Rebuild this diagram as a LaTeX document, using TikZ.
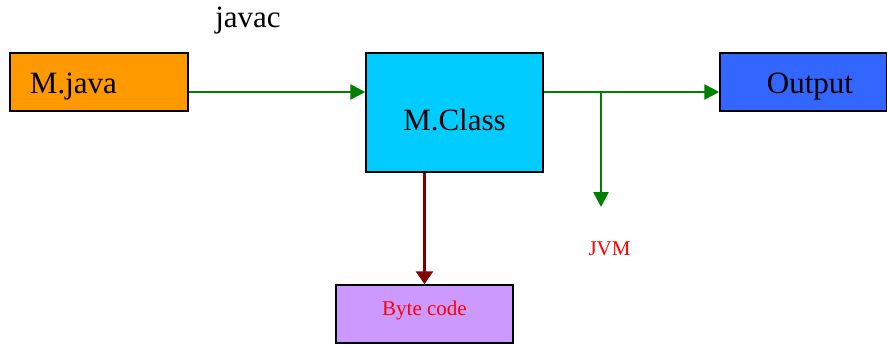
\documentclass[tikz,border=0pt]{standalone}
\usepackage{fontspec}
\setmainfont{Liberation Serif}
\usetikzlibrary{positioning, arrows.meta}

\definecolor{javaorange}{HTML}{FF9900}
\definecolor{classcyan}{HTML}{00CCFF}
\definecolor{outblue}{HTML}{3366FF}
\definecolor{codeviolet}{HTML}{CC99FF}
\definecolor{flowgreen}{HTML}{008000}
\definecolor{darkred}{HTML}{800000}

\begin{document}
\begin{tikzpicture}[
    x=1pt, y=-1pt,
    every node/.style={font=\fontsize{31}{34}\selectfont, align=center},
    box/.style={
        draw, line width=1.5pt, inner sep=0pt,
        minimum height=58pt, minimum width=177pt
    },
    small/.style={font=\fontsize{21}{24}\selectfont, text=red},
    line/.style={-{Triangle[length=15pt,width=15pt]}, line width=2.7pt, flowgreen}
]
\useasboundingbox (0,0) rectangle (887,345);

% --- Top row: source, class file, output ---
\node[box, fill=javaorange, minimum width=178pt, text width=138pt,
      inner xsep=20pt, align=left, text height=29pt] (mjava) at (99,82) {M.java};
\node[box, fill=classcyan, minimum height=119pt, text height=37pt] (mclass) at (454.5,112.5) {M.Class};
\node[box, fill=outblue, minimum width=167pt, text height=29pt] (output) at (803.5,82) {\hspace*{13pt}Output};

% --- Bottom: byte code box ---
\node[box, fill=codeviolet, small, text depth=12pt] (bytecode) at (424.5,314) {Byte code};

% --- Free labels ---
\node[anchor=base] (javac) at (248,28) {javac};
\node[small, anchor=base] (jvm) at (609.5,255) {JVM};

\coordinate (tap) at (601,92);
\coordinate (jvmend) at (601,207);

% --- Connections ---
\draw[line] ([yshift=-10pt]mjava.east) -- ([yshift=-10pt]mjava.east -| mclass.west);
\draw[line] (mclass.east |- tap) -- ([yshift=-10pt]output.west);
\draw[line] (tap) -- (jvmend);
\draw[line, darkred, -{Triangle[length=13pt,width=17pt]}]
    (bytecode.north |- mclass.south) -- (bytecode.north);

\end{tikzpicture}
\end{document}
